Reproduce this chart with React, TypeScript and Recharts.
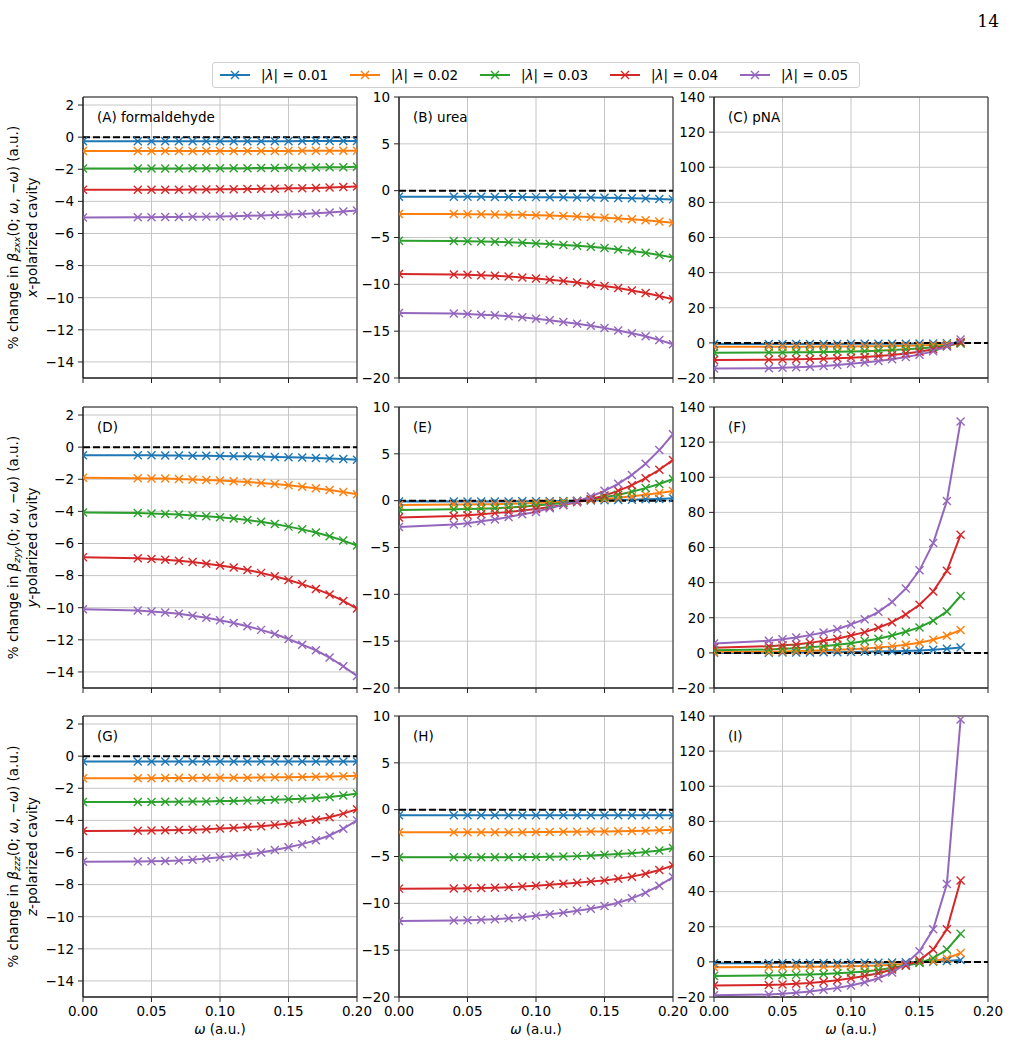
import React from "react";
import {
  LineChart,
  Line,
  XAxis,
  YAxis,
  CartesianGrid,
  ReferenceLine,
  ReferenceArea,
} from "recharts";

// frequencies (a.u.)
const omega = [0, 0.04, 0.05, 0.06, 0.07, 0.08, 0.09, 0.1, 0.11, 0.12, 0.13, 0.14, 0.15, 0.16, 0.17, 0.18, 0.19, 0.2];
const omegaPNA = [0, 0.04, 0.05, 0.06, 0.07, 0.08, 0.09, 0.1, 0.11, 0.12, 0.13, 0.14, 0.15, 0.16, 0.17, 0.18];

const lambdas = ["0.01", "0.02", "0.03", "0.04", "0.05"];
const colors = ["#1f77b4", "#ff7f0e", "#2ca02c", "#d62728", "#9467bd"];

const xTicks = [0, 0.05, 0.1, 0.15, 0.2];
const ticksSmall = [-14, -12, -10, -8, -6, -4, -2, 0, 2];
const ticksMid = [-20, -15, -10, -5, 0, 5, 10];
const ticksBig = [-20, 0, 20, 40, 60, 80, 100, 120, 140];

// x-polarized cavity, beta_zxx
const panelA = [
  [-0.25, -0.25, -0.25, -0.25, -0.25, -0.25, -0.25, -0.25, -0.25, -0.25, -0.25, -0.25, -0.25, -0.24, -0.24, -0.24, -0.24, -0.24],
  [-0.87, -0.87, -0.87, -0.87, -0.87, -0.87, -0.87, -0.86, -0.86, -0.86, -0.86, -0.86, -0.86, -0.85, -0.85, -0.85, -0.84, -0.84],
  [-1.95, -1.95, -1.95, -1.95, -1.95, -1.94, -1.94, -1.94, -1.93, -1.93, -1.92, -1.92, -1.91, -1.9, -1.89, -1.88, -1.87, -1.85],
  [-3.28, -3.28, -3.27, -3.27, -3.27, -3.26, -3.26, -3.25, -3.24, -3.23, -3.22, -3.21, -3.19, -3.18, -3.16, -3.14, -3.11, -3.08],
  [-5.0, -4.99, -4.99, -4.98, -4.97, -4.96, -4.95, -4.94, -4.92, -4.9, -4.88, -4.85, -4.82, -4.78, -4.74, -4.69, -4.63, -4.57],
];
const panelB = [
  [-0.65, -0.66, -0.66, -0.66, -0.67, -0.67, -0.68, -0.69, -0.7, -0.71, -0.72, -0.74, -0.76, -0.78, -0.81, -0.84, -0.88, -0.93],
  [-2.48, -2.5, -2.51, -2.52, -2.54, -2.56, -2.58, -2.62, -2.66, -2.7, -2.75, -2.81, -2.88, -2.96, -3.05, -3.15, -3.28, -3.43],
  [-5.35, -5.37, -5.39, -5.42, -5.45, -5.5, -5.56, -5.63, -5.7, -5.79, -5.89, -6.0, -6.13, -6.28, -6.45, -6.64, -6.87, -7.15],
  [-8.9, -8.94, -8.97, -9.02, -9.08, -9.16, -9.26, -9.38, -9.5, -9.64, -9.8, -9.98, -10.18, -10.4, -10.65, -10.93, -11.25, -11.6],
  [-13.05, -13.12, -13.17, -13.24, -13.31, -13.4, -13.52, -13.68, -13.84, -14.02, -14.22, -14.43, -14.65, -14.92, -15.22, -15.55, -15.95, -16.4],
];
const panelC = [
  [-0.6, -0.6, -0.6, -0.6, -0.6, -0.58, -0.57, -0.56, -0.55, -0.53, -0.5, -0.46, -0.4, -0.32, -0.2, -0.05],
  [-2.2, -2.2, -2.18, -2.16, -2.14, -2.11, -2.07, -2.02, -1.96, -1.88, -1.78, -1.64, -1.45, -1.18, -0.78, -0.15],
  [-5.6, -5.5, -5.45, -5.4, -5.3, -5.2, -5.05, -4.9, -4.7, -4.45, -4.1, -3.7, -3.2, -2.5, -1.5, -0.3],
  [-9.7, -9.6, -9.5, -9.35, -9.2, -9.0, -8.7, -8.4, -8.0, -7.5, -6.9, -6.1, -5.0, -3.6, -1.8, 0.3],
  [-14.6, -14.4, -14.2, -13.9, -13.6, -13.2, -12.6, -11.9, -11.2, -10.3, -9.3, -8.1, -6.7, -4.8, -2.0, 1.9],
];

// y-polarized cavity, beta_zyy
const panelD = [
  [-0.5, -0.51, -0.51, -0.52, -0.52, -0.53, -0.54, -0.55, -0.56, -0.57, -0.59, -0.61, -0.63, -0.65, -0.68, -0.71, -0.74, -0.78],
  [-1.9, -1.93, -1.95, -1.96, -1.98, -2.01, -2.04, -2.08, -2.12, -2.17, -2.23, -2.3, -2.37, -2.46, -2.56, -2.67, -2.79, -2.93],
  [-4.07, -4.1, -4.13, -4.16, -4.2, -4.25, -4.3, -4.37, -4.45, -4.54, -4.65, -4.79, -4.95, -5.12, -5.32, -5.55, -5.82, -6.13],
  [-6.85, -6.92, -6.96, -7.02, -7.08, -7.16, -7.26, -7.37, -7.5, -7.65, -7.83, -8.04, -8.27, -8.53, -8.83, -9.17, -9.58, -10.05],
  [-10.1, -10.18, -10.23, -10.3, -10.38, -10.5, -10.63, -10.78, -10.95, -11.15, -11.38, -11.64, -11.95, -12.3, -12.65, -13.1, -13.65, -14.25],
];
const panelE = [
  [-0.1, -0.1, -0.1, -0.09, -0.09, -0.08, -0.07, -0.06, -0.05, -0.03, -0.01, 0.01, 0.04, 0.07, 0.1, 0.14, 0.19, 0.25],
  [-0.45, -0.42, -0.41, -0.39, -0.37, -0.34, -0.3, -0.25, -0.19, -0.12, -0.04, 0.06, 0.18, 0.31, 0.46, 0.63, 0.82, 1.03],
  [-1.0, -0.92, -0.89, -0.85, -0.8, -0.73, -0.64, -0.52, -0.39, -0.24, -0.06, 0.14, 0.37, 0.64, 0.96, 1.34, 1.78, 2.32],
  [-1.8, -1.63, -1.55, -1.45, -1.33, -1.2, -1.05, -0.88, -0.68, -0.45, -0.17, 0.15, 0.55, 1.05, 1.65, 2.4, 3.3, 4.35],
  [-2.8, -2.55, -2.4, -2.2, -2.0, -1.75, -1.45, -1.2, -0.8, -0.45, -0.07, 0.45, 1.05, 1.8, 2.75, 3.95, 5.4, 7.1],
];
const panelF = [
  [0.0, 0.1, 0.15, 0.2, 0.25, 0.3, 0.4, 0.5, 0.6, 0.75, 0.9, 1.1, 1.4, 1.8, 2.3, 3.1],
  [0.4, 0.7, 0.85, 1.0, 1.2, 1.45, 1.75, 2.1, 2.5, 3.0, 3.7, 4.6, 5.8, 7.5, 9.8, 13.0],
  [1.5, 1.9, 2.3, 2.7, 3.2, 3.8, 4.6, 5.5, 6.7, 8.0, 9.9, 12.0, 14.5, 18.3, 23.6, 32.4],
  [2.9, 3.8, 4.4, 4.8, 5.7, 6.9, 8.0, 9.9, 11.8, 14.3, 17.5, 21.9, 27.4, 35.0, 46.7, 67.2],
  [5.3, 6.9, 7.8, 8.8, 10.1, 11.6, 13.5, 16.2, 19.2, 23.4, 29.0, 36.6, 47.0, 62.5, 86.5, 131.8],
];

// z-polarized cavity, beta_zzz
const panelG = [
  [-0.34, -0.34, -0.34, -0.34, -0.34, -0.34, -0.34, -0.34, -0.34, -0.34, -0.34, -0.34, -0.34, -0.34, -0.34, -0.33, -0.33, -0.33],
  [-1.37, -1.37, -1.37, -1.36, -1.36, -1.36, -1.35, -1.35, -1.34, -1.34, -1.33, -1.32, -1.31, -1.3, -1.29, -1.27, -1.25, -1.22],
  [-2.86, -2.85, -2.85, -2.84, -2.84, -2.83, -2.82, -2.8, -2.79, -2.77, -2.75, -2.72, -2.69, -2.65, -2.6, -2.54, -2.45, -2.32],
  [-4.66, -4.64, -4.63, -4.62, -4.6, -4.58, -4.55, -4.51, -4.47, -4.42, -4.36, -4.29, -4.2, -4.09, -3.96, -3.8, -3.58, -3.31],
  [-6.58, -6.56, -6.55, -6.53, -6.5, -6.45, -6.38, -6.3, -6.22, -6.12, -6.0, -5.85, -5.67, -5.48, -5.24, -4.94, -4.52, -4.0],
];
const panelH = [
  [-0.6, -0.6, -0.6, -0.6, -0.6, -0.6, -0.6, -0.6, -0.6, -0.6, -0.6, -0.6, -0.6, -0.6, -0.6, -0.6, -0.59, -0.59],
  [-2.42, -2.42, -2.42, -2.41, -2.41, -2.41, -2.4, -2.39, -2.38, -2.37, -2.36, -2.34, -2.32, -2.3, -2.27, -2.24, -2.19, -2.14],
  [-5.09, -5.09, -5.08, -5.08, -5.07, -5.07, -5.06, -5.05, -5.03, -5.0, -4.96, -4.9, -4.82, -4.74, -4.64, -4.52, -4.35, -4.1],
  [-8.43, -8.41, -8.4, -8.37, -8.33, -8.27, -8.2, -8.11, -8.02, -7.92, -7.8, -7.68, -7.55, -7.38, -7.15, -6.85, -6.45, -5.95],
  [-11.89, -11.83, -11.8, -11.75, -11.69, -11.6, -11.48, -11.32, -11.17, -11.0, -10.8, -10.57, -10.28, -9.93, -9.47, -8.86, -8.11, -7.19],
];
const panelI = [
  [-0.75, -0.72, -0.7, -0.68, -0.66, -0.63, -0.6, -0.56, -0.52, -0.46, -0.38, -0.28, -0.12, 0.1, 0.45, 1.1],
  [-3.0, -2.9, -2.87, -2.83, -2.78, -2.72, -2.63, -2.5, -2.32, -2.07, -1.7, -1.15, -0.4, 0.45, 1.9, 5.1],
  [-8.0, -7.75, -7.6, -7.4, -7.15, -6.85, -6.5, -6.1, -5.45, -4.6, -3.4, -2.1, -0.6, 2.1, 7.0, 16.0],
  [-13.5, -13.1, -12.9, -12.5, -12.0, -11.3, -10.4, -9.3, -8.0, -6.5, -4.3, -2.0, 0.9, 7.0, 18.6, 46.3],
  [-19.0, -18.6, -18.2, -17.6, -16.9, -15.9, -14.8, -13.5, -11.6, -9.3, -6.1, -1.1, 6.1, 18.6, 44.4, 138.0],
];

const FONT = "'DejaVu Sans', sans-serif";
const FS = 13.5;
const COLS = [83, 399, 714];
const ROWS = [97, 407, 716];
const PW = 274;
const PH = 281;
const YW = 50;
const MT = 10;
const MR = 24;
const XH = 30;

type PanelDef = {
  label: string;
  row: number;
  col: number;
  x: number[];
  series: number[][];
  domain: [number, number];
  ticks: number[];
};

const panels: PanelDef[] = [
  { label: "(A) formaldehyde", row: 0, col: 0, x: omega, series: panelA, domain: [-15, 2.5], ticks: ticksSmall },
  { label: "(B) urea", row: 0, col: 1, x: omega, series: panelB, domain: [-20, 10], ticks: ticksMid },
  { label: "(C) pNA", row: 0, col: 2, x: omegaPNA, series: panelC, domain: [-20, 140], ticks: ticksBig },
  { label: "(D)", row: 1, col: 0, x: omega, series: panelD, domain: [-15, 2.5], ticks: ticksSmall },
  { label: "(E)", row: 1, col: 1, x: omega, series: panelE, domain: [-20, 10], ticks: ticksMid },
  { label: "(F)", row: 1, col: 2, x: omegaPNA, series: panelF, domain: [-20, 140], ticks: ticksBig },
  { label: "(G)", row: 2, col: 0, x: omega, series: panelG, domain: [-15, 2.5], ticks: ticksSmall },
  { label: "(H)", row: 2, col: 1, x: omega, series: panelH, domain: [-20, 10], ticks: ticksMid },
  { label: "(I)", row: 2, col: 2, x: omegaPNA, series: panelI, domain: [-20, 140], ticks: ticksBig },
];

const cavities = [
  { sub: "zxx", axis: "x" },
  { sub: "zyy", axis: "y" },
  { sub: "zzz", axis: "z" },
];

function fmtMinus(v: number) {
  return String(v).replace("-", "\u2212");
}

function crossDot(color: string) {
  return (props: any) => {
    const { cx, cy, index } = props;
    if (cx == null || cy == null) return <g key={index} />;
    const r = 4;
    return (
      <path
        key={index}
        d={`M${cx - r},${cy - r}L${cx + r},${cy + r}M${cx - r},${cy + r}L${cx + r},${cy - r}`}
        stroke={color}
        strokeWidth={1.4}
        fill="none"
      />
    );
  };
}

function Panel({ p }: { p: PanelDef }) {
  const rows = p.x.map((w, i) => {
    const r: Record<string, number> = { w };
    p.series.forEach((s, k) => {
      r["s" + k] = s[i];
    });
    return r;
  });
  const bottom = p.row === 2;
  return (
    <div style={{ position: "absolute", left: COLS[p.col] - YW, top: ROWS[p.row] - MT }}>
      <LineChart
        width={YW + PW + MR}
        height={MT + PH + XH}
        data={rows}
        margin={{ top: MT, right: MR, left: 0, bottom: 0 }}
      >
        <CartesianGrid stroke="#c6c6c6" strokeWidth={1} />
        <XAxis
          type="number"
          dataKey="w"
          domain={[0, 0.2]}
          ticks={xTicks}
          interval={0}
          allowDataOverflow
          height={XH}
          tickSize={5}
          tickMargin={4}
          stroke="#222"
          tick={{ fill: "#000", fontSize: FS, fontFamily: FONT }}
          tickFormatter={(v: number) => (bottom ? v.toFixed(2) : "")}
        />
        <YAxis
          type="number"
          domain={p.domain}
          ticks={p.ticks}
          interval={0}
          allowDataOverflow
          width={YW}
          tickSize={5}
          tickMargin={4}
          stroke="#222"
          tick={{ fill: "#000", fontSize: FS, fontFamily: FONT }}
          tickFormatter={fmtMinus}
        />
        {colors.map((c, k) => (
          <Line
            key={k}
            type="linear"
            dataKey={"s" + k}
            stroke={c}
            strokeWidth={2}
            dot={crossDot(c)}
            activeDot={false}
            isAnimationActive={false}
          />
        ))}
        <ReferenceLine y={0} stroke="#000" strokeWidth={2} strokeDasharray="7 3" />
        <ReferenceArea x1={0} x2={0.2} y1={p.domain[0]} y2={p.domain[1]} fill="none" stroke="#222" strokeWidth={1} />
      </LineChart>
    </div>
  );
}

function Legend() {
  const x0 = 219;
  const step = 130;
  return (
    <div
      style={{
        position: "absolute",
        left: 212,
        top: 62,
        width: 648,
        height: 26,
        border: "1px solid #d0d0d0",
        borderRadius: 3,
        boxSizing: "border-box",
        background: "#fff",
      }}
    >
      {lambdas.map((l, k) => {
        const left = x0 + k * step - 212;
        return (
          <div key={l} style={{ position: "absolute", left, top: 0, height: 24, display: "flex", alignItems: "center" }}>
            <svg width={30} height={12} style={{ display: "block" }}>
              <line x1={0} y1={6} x2={30} y2={6} stroke={colors[k]} strokeWidth={2} />
              <path d="M11,2L19,10M11,10L19,2" stroke={colors[k]} strokeWidth={1.4} />
            </svg>
            <span style={{ marginLeft: 11, fontFamily: FONT, fontSize: FS, color: "#000", whiteSpace: "nowrap" }}>
              |<i>λ</i>| = {l}
            </span>
          </div>
        );
      })}
    </div>
  );
}

export default function App() {
  return (
    <div style={{ position: "absolute", left: 0, top: 0, width: 1019, height: 1043, background: "#fff", fontFamily: FONT }}>
      {panels.map((p) => (
        <Panel key={p.label} p={p} />
      ))}
      <svg
        width={1019}
        height={1043}
        style={{ position: "absolute", left: 0, top: 0, pointerEvents: "none" }}
        fontFamily={FONT}
        fontSize={FS}
      >
        <text x={999} y={27} textAnchor="end" fontFamily="'DejaVu Serif', serif" fontSize={17}>
          14
        </text>
        {panels.map((p) => (
          <text key={p.label} x={COLS[p.col] + 14} y={ROWS[p.row] + 20} dominantBaseline="central">
            {p.label}
          </text>
        ))}
        {cavities.map((c, r) => {
          const cy = ROWS[r] + PH / 2;
          return (
            <g key={c.sub}>
              <text transform={`translate(13,${cy}) rotate(-90)`} textAnchor="middle" dominantBaseline="central">
                % change in <tspan fontStyle="italic">β</tspan>
                <tspan fontStyle="italic" fontSize={9.5} dy={3}>
                  {c.sub}
                </tspan>
                <tspan dy={-3}>(0; </tspan>
                <tspan fontStyle="italic">ω</tspan>
                <tspan>, −</tspan>
                <tspan fontStyle="italic">ω</tspan>
                <tspan>) (a.u.)</tspan>
              </text>
              <text transform={`translate(32,${cy}) rotate(-90)`} textAnchor="middle" dominantBaseline="central">
                <tspan fontStyle="italic">{c.axis}</tspan>
                <tspan>-polarized cavity</tspan>
              </text>
            </g>
          );
        })}
        {COLS.map((cx) => (
          <text key={cx} x={cx + PW / 2} y={1029} textAnchor="middle" dominantBaseline="central">
            <tspan fontStyle="italic">ω</tspan> (a.u.)
          </text>
        ))}
      </svg>
      <Legend />
    </div>
  );
}
